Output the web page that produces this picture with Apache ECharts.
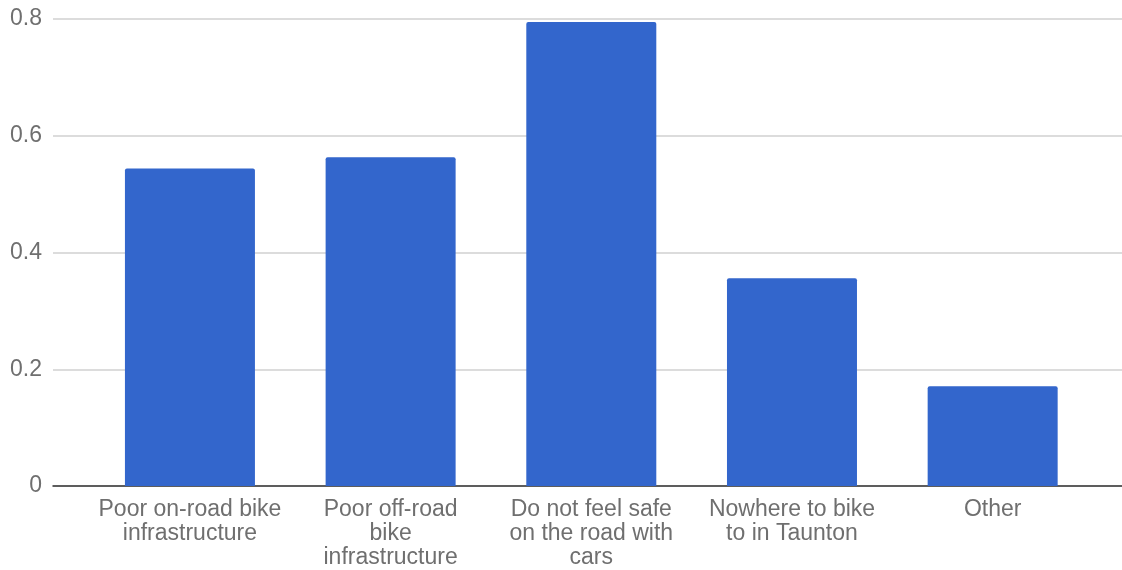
<!DOCTYPE html>
<html>
<head>
<meta charset="utf-8">
<script src="https://cdn.jsdelivr.net/npm/echarts@6/dist/echarts.min.js"></script>
<style>html,body{margin:0;padding:0;background:#fff}#c{width:1122px;height:570px}</style>
</head>
<body>
<div id="c"></div>
<script>
const categories = [
  "Poor on-road bike\ninfrastructure",
  "Poor off-road\nbike\ninfrastructure",
  "Do not feel safe\non the road with\ncars",
  "Nowhere to bike\nto in Taunton",
  "Other"
];
const values = [0.544, 0.563, 0.795, 0.356, 0.171];
const yTicks = { min: 0, max: 0.8, interval: 0.2 };

const chart = echarts.init(document.getElementById('c'), null, { renderer: 'canvas' });
const font = 'Liberation Sans, Arial, sans-serif';
chart.setOption({
  animation: false,
  backgroundColor: '#fff',
  grid: [
    { left: 53, right: 0, top: 19, bottom: 84 },
    { left: 89.6, right: 29, top: 19, bottom: 84 }
  ],
  xAxis: [
    { gridIndex: 0, type: 'value', min: 0, max: 1,
      axisLine: { show: true, lineStyle: { color: '#333', width: 1.5 } },
      axisTick: { show: false }, axisLabel: { show: false }, splitLine: { show: false } },
    { gridIndex: 1, type: 'category', data: categories,
      axisLine: { show: false }, axisTick: { show: false },
      axisLabel: { color: '#6f6f6f', fontFamily: font, fontSize: 23, lineHeight: 24, margin: 12, interval: 0 } }
  ],
  yAxis: [
    { gridIndex: 0, type: 'value', min: yTicks.min, max: yTicks.max, interval: yTicks.interval,
      axisLine: { show: false }, axisTick: { show: false },
      axisLabel: { color: '#6f6f6f', fontFamily: font, fontSize: 23, margin: 11 },
      splitLine: { lineStyle: { color: '#d0d0d0', width: 1.5 } } },
    { gridIndex: 1, type: 'value', min: yTicks.min, max: yTicks.max, interval: yTicks.interval, show: false,
      splitLine: { show: false } }
  ],
  series: [{
    type: 'bar', xAxisIndex: 1, yAxisIndex: 1, data: values,
    barWidth: 130,
    itemStyle: { color: '#3366cc', borderRadius: [2, 2, 0, 0] }
  }]
});
</script>
</body>
</html>
